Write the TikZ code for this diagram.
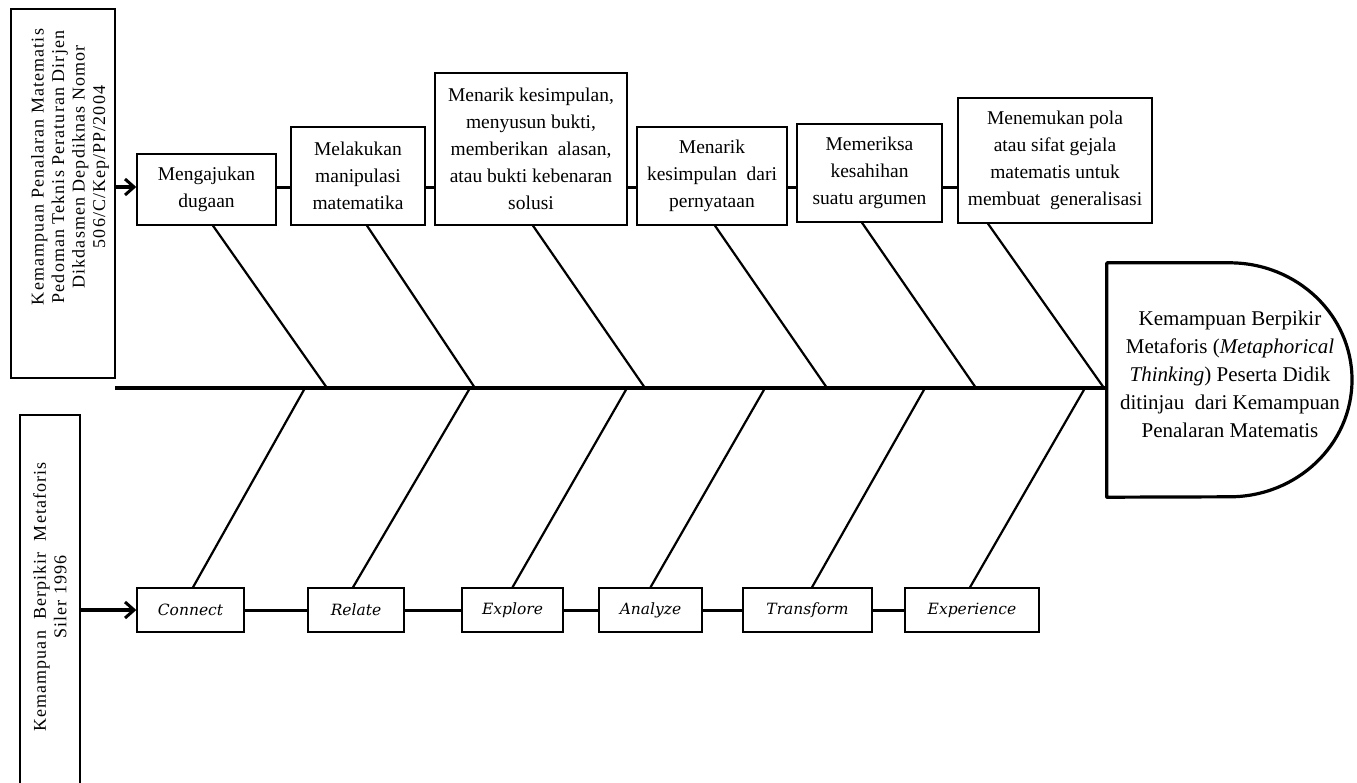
\documentclass[tikz,border=0pt]{standalone}
\usepackage{fontspec}
\setmainfont{Liberation Serif}
\newfontfamily\bitfont{DejaVu Serif}
\newfontfamily\spacedfont[LetterSpace=6]{Liberation Serif}
\usetikzlibrary{arrows.meta,calc}
\begin{document}
\begin{tikzpicture}[x=1pt,y=-1pt,
  tbox/.style={draw=black,line width=1.4pt,inner sep=0pt,align=center,
    font=\fontsize{19.5}{27}\selectfont},
  bbox/.style={draw=black,line width=1.4pt,inner sep=0pt,minimum height=44pt,
    font=\bitfont\itshape\fontsize{15.5}{18}\selectfont},
  lbox/.style={draw=black,line width=1.4pt,inner sep=0pt},
  ltext/.style={rotate=90,align=center,inner sep=0pt,
    font=\spacedfont\fontsize{18}{20.5}\selectfont},
  rib/.style={line width=2.2pt},
  link/.style={line width=3pt},
  spine/.style={line width=4.5pt},
  arr/.style={line width=4pt,-{Straight Barb[length=9pt,width=16pt,line width=3pt]}}
]
\useasboundingbox (0,0) rectangle (1357,782);
% left boxes
\node[lbox,minimum width=104pt,minimum height=369pt] (L1) at (63,193.5) {};
\node[ltext] (L1t) at (70,167) {Kemampuan Penalaran Matematis\\Pedoman Teknis Peraturan Dirjen\\Dikdasmen Depdiknas Nomor\\506/C/Kep/PP/2004};
\node[lbox,minimum width=60pt,minimum height=400pt] (L2) at (50,615) {};
\node[ltext] (L2t) at (50,597) {Kemampuan\ \ Berpikir\ \ Metaforis\\Siler 1996};
% top boxes
\node[tbox,minimum width=139pt,minimum height=71pt] (t1) at (206.5,189.5) {Mengajukan\\dugaan};
\node[tbox,minimum width=134pt,minimum height=98pt] (t2) at (358,176) {Melakukan\\manipulasi\\matematika};
\node[tbox,minimum width=192pt,minimum height=152pt] (t3) at (531,149) {Menarik kesimpulan,\\menyusun bukti,\\memberikan\ \ alasan,\\atau bukti kebenaran\\solusi};
\node[tbox,minimum width=150pt,minimum height=98pt] (t4) at (712,176) {Menarik\\kesimpulan\ \ dari\\pernyataan};
\node[tbox,minimum width=145pt,minimum height=98pt] (t5) at (869.5,173) {Memeriksa\\kesahihan\\suatu argumen};
\node[tbox,minimum width=194pt,minimum height=125pt] (t6) at (1055,160.5) {Menemukan pola\\atau sifat gejala\\matematis untuk\\membuat\ \ generalisasi};
% bottom boxes
\node[bbox,minimum width=107pt] (b1) at (190.5,610) {Connect};
\node[bbox,minimum width=96pt] (b2) at (356,610) {Relate};
\node[bbox,minimum width=101pt] (b3) at (512.5,610) {Explore};
\node[bbox,minimum width=103pt] (b4) at (650.5,610) {Analyze};
\node[bbox,minimum width=129pt] (b5) at (807.5,610) {Transform};
\node[bbox,minimum width=134pt] (b6) at (972,610) {Experience};
% head
\node[minimum width=245pt,minimum height=234pt,inner sep=0pt] (head) at (1229.5,380) {};
\draw[line width=3.2pt,line join=round] (head.south west) -- (head.north west) -- (head.north)
  arc[start angle=90,end angle=-90,x radius=122.5pt,y radius=117pt] -- cycle;
\node[align=center,inner sep=0pt,font=\fontsize{21}{28}\selectfont] (headtxt) at (1230,374)
  {Kemampuan Berpikir\\Metaforis (\textit{Metaphorical}\\\textit{Thinking}) Peserta Didik\\ditinjau\ \ dari Kemampuan\\Penalaran Matematis};
% spine
\coordinate (sp0) at (115,388);
\coordinate (tl) at (0,187);
\draw[spine] (sp0) -- (head.west |- sp0);
% arrows
\draw[arr] (L1.east |- tl) -- (t1.west |- tl);
\draw[arr] (L2.east |- b1.west) -- (b1.west);
% top links
\draw[link] (t1.east |- tl) -- (t2.west |- tl);
\draw[link] (t2.east |- tl) -- (t3.west |- tl);
\draw[link] (t3.east |- tl) -- (t4.west |- tl);
\draw[link] (t4.east |- tl) -- (t5.west |- tl);
\draw[link] (t5.east |- tl) -- (t6.west |- tl);
% bottom links
\draw[link] (b1.east) -- (b2.west);
\draw[link] (b2.east) -- (b3.west);
\draw[link] (b3.east) -- (b4.west);
\draw[link] (b4.east) -- (b5.west);
\draw[link] (b5.east) -- (b6.west);
% spine points
\coordinate (s1) at (327,388);
\coordinate (s2) at (475,388);
\coordinate (s3) at (645,388);
\coordinate (s4) at (827,388);
\coordinate (s5) at (976,388);
\coordinate (s6) at (1104,388);
\coordinate (u1) at (305,388);
\coordinate (u2) at (470,388);
\coordinate (u3) at (627,388);
\coordinate (u4) at (765,388);
\coordinate (u5) at (925,388);
\coordinate (u6) at (1085,388);
% top ribs
\draw[rib] ([xshift=6.5pt]t1.south) -- (s1);
\draw[rib] ([xshift=9pt]t2.south) -- (s2);
\draw[rib] ([xshift=2pt]t3.south) -- (s3);
\draw[rib] ([xshift=3pt]t4.south) -- (s4);
\draw[rib] ([xshift=-7.5pt]t5.south) -- (s5);
\draw[rib] ([xshift=-67pt]t6.south) -- (s6);
% bottom ribs
\draw[rib] ([xshift=2.5pt]b1.north) -- (u1);
\draw[rib] ([xshift=-3pt]b2.north) -- (u2);
\draw[rib] (b3.north) -- (u3);
\draw[rib] (b4.north) -- (u4);
\draw[rib] ([xshift=4.5pt]b5.north) -- (u5);
\draw[rib] ([xshift=-2pt]b6.north) -- (u6);
\end{tikzpicture}
\end{document}
